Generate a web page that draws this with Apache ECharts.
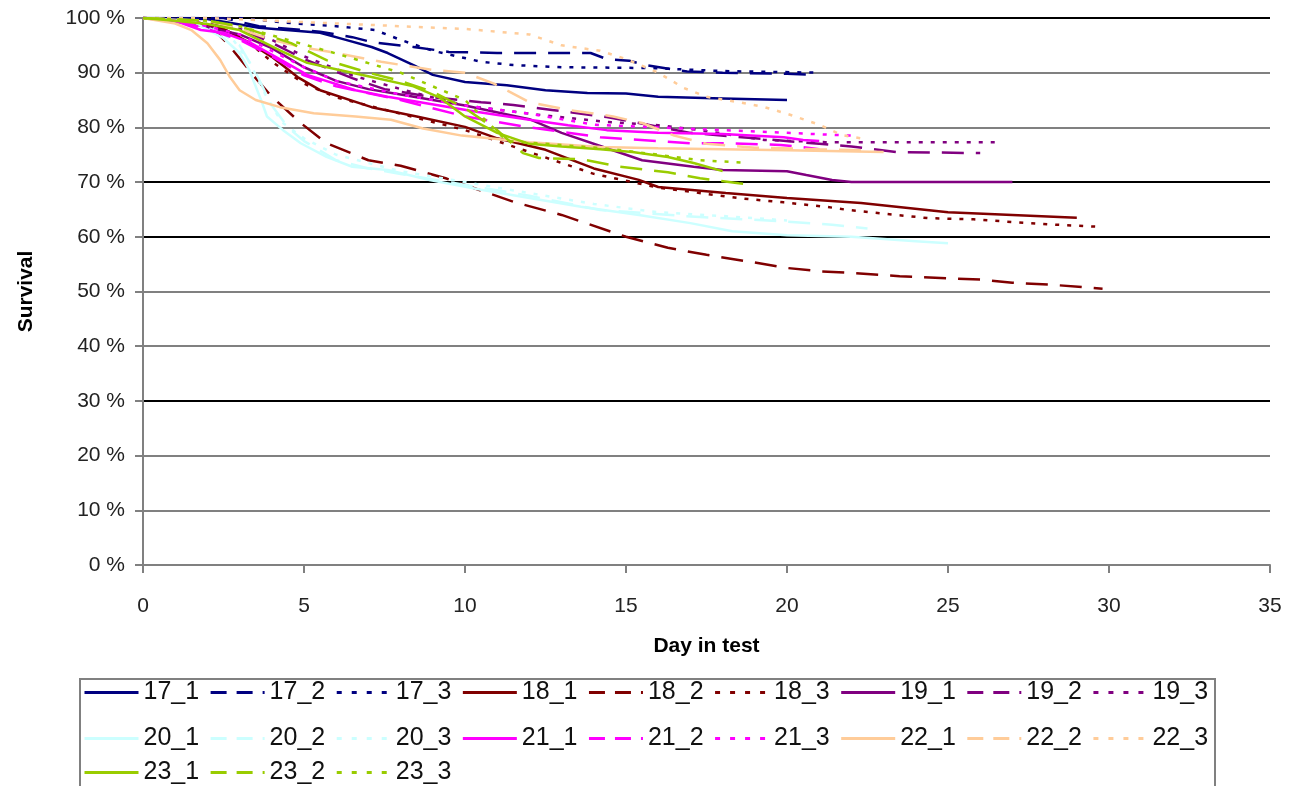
<!DOCTYPE html>
<html>
<head>
<meta charset="utf-8">
<script src="https://cdn.jsdelivr.net/npm/echarts@6/dist/echarts.min.js"></script>
<style>
  html, body { margin: 0; padding: 0; background: #fff; }
  #main { width: 1293px; height: 786px; }
</style>
</head>
<body>
<div id="main"></div>
<script>
// survival curves, [day, survival %]
var s17_1 = [[0,100],[2,99.8],[3.6,98.2],[5.5,97.3],[6.3,96],[7.1,94.7],[7.6,93.6],[8.4,91.4],[9,89.6],[10,88.3],[11.3,87.7],[12.5,86.8],[13.8,86.3],[15,86.2],[16,85.6],[18,85.3],[20,85]];
var s17_2 = [[0,100],[2.5,100],[3.6,98.5],[5.5,97.5],[6.5,96.5],[7.1,95.6],[8.4,94.7],[9.5,93.8],[11,93.6],[13.9,93.6],[14.4,92.5],[15.1,92.2],[15.6,91.4],[16.9,90.2],[18,90],[20,89.8],[20.8,89.6]];
var s17_3 = [[0,100],[3,100],[4.7,99],[6,98.5],[7.2,97.8],[8,96],[9,94],[10.5,92],[11.5,91.4],[13,91],[15,90.9],[16,90.8],[18,90.3],[21,90]];

var s18_1 = [[0,100],[1.5,99.5],[2.5,98],[3.3,95.5],[4,92.9],[4.8,89.2],[5.5,86.8],[7.1,83.7],[8.5,82],[10,80.1],[11,78],[12.5,75.9],[14,72.5],[15.4,70.4],[16,69.1],[18.1,68],[20,67.1],[22.3,66.2],[25,64.5],[27,64],[29,63.5]];
var s18_2 = [[0,100],[2,99],[2.6,95.5],[3.5,89],[4,85.6],[4.9,80.8],[5.7,77.1],[7,74],[8,73],[9.4,70.7],[11.5,66.4],[13,64],[15,60],[16.3,58],[17.5,56.7],[19,55.3],[20,54.3],[21,53.7],[22,53.4],[23.5,52.8],[25,52.4],[26,52.2],[27,51.6],[28.3,51.2],[29.8,50.5]];
var s18_3 = [[0,100],[1.5,99.5],[2.5,98],[3.3,95.5],[4,92],[5,88],[6,85.5],[8,82.5],[10,79.5],[12,75.5],[14,71.5],[16,69],[18.6,67],[19.9,66.3],[21.2,65.5],[21.9,64.9],[24.4,63.4],[25.8,63.2],[27,62.7],[28.4,62.2],[29.8,61.8]];

var s19_1 = [[0,100],[1.5,99],[3,97],[4,94.5],[5,91],[6,88.5],[7,87],[8,86],[10,84],[12,81.5],[13,79],[14.5,76],[15.5,74],[17.1,72.8],[18,72.2],[20,72],[20.6,71.3],[21.4,70.4],[22,70],[27,70]];
var s19_2 = [[0,100],[1.5,99.5],[3,98],[4,95.5],[5,92.5],[6.5,89],[7.5,87],[8.9,85.6],[10.5,84.6],[11.5,84.1],[12.7,83.2],[14.4,81.9],[15.4,80.8],[17,79],[19,78],[21,77],[22,76.5],[23.4,75.5],[26,75.3]];
var s19_3 = [[0,100],[1.5,99.5],[3,98],[4,96],[5,93],[6.5,89.5],[8,87],[10,84],[12,82.5],[14.4,81],[16,80.4],[17.3,79.5],[19.3,77.7],[21.2,77.3],[26.7,77.3]];

var s20_1 = [[0,100],[1.5,99.5],[2.5,96.3],[3,93.6],[3.3,90.5],[3.7,84.5],[3.85,82],[4.35,79.5],[4.9,77.1],[5.7,74.6],[6.5,72.8],[7.6,72.2],[8.9,70.4],[10.5,68.6],[12,67.1],[13.6,65.5],[15.4,64],[17,62.5],[18.3,61],[20,60.3],[22,60],[24,59.2],[25,58.8]];
var s20_2 = [[0,100],[1.5,99.5],[2.5,97],[3,95],[3.5,90],[4,84],[4.5,80],[5,77.5],[6,74],[7,72.5],[8,71.5],[9,70.5],[10.5,69],[12,67.5],[14.2,64.9],[17.3,63.6],[19.4,63],[21.4,62.2],[22.5,61.5]];
var s20_3 = [[0,100],[2,99],[2.8,96],[3.3,92],[3.8,86],[4.3,81],[5,78],[6,75],[7,73.5],[8,72],[10,70],[12,68],[14,66],[16,64.5],[18,63.8],[20,63]];

var s21_1 = [[0,100],[1,99.5],[1.8,97.8],[2.5,97.3],[3.3,95.6],[4.3,92.3],[5.1,89.6],[6.6,86.8],[7.6,85.6],[8.7,84.5],[10.4,82.8],[12,81.4],[13.2,80.4],[14.4,79.5],[16,79],[18,78.8],[19.9,78.2],[20.5,77.7],[21,77.5]];
var s21_2 = [[0,100],[1,99.5],[2,98],[3,96],[4,93],[5,89.5],[6,87.5],[8,85],[10,82],[12,80],[14.2,78.2],[17,77.1],[18.3,77.1],[19.8,76.8],[20.5,76.4],[21,76]];
var s21_3 = [[0,100],[1,99.5],[2,98.5],[3,97],[4,94],[5,91],[6,88.5],[8,86],[10,84],[12,82.5],[14,80.5],[16,80],[18,79.5],[20,79],[22,78.5]];

var s22_1 = [[0,100],[1,99],[1.5,97.8],[2,95.4],[2.4,92.3],[2.7,89.2],[3,86.8],[3.5,85],[4.25,83.7],[5.3,82.6],[6.6,82],[7.7,81.4],[8.7,79.8],[9.9,78.5],[12,77.3],[14.2,76.4],[16,76.2],[18,76],[20,75.8],[23,75.5]];
var s22_2 = [[0,100],[2,99.5],[3,98],[4,96],[4.9,94.7],[6,93.6],[7.4,92],[9,90.5],[10,90],[10.9,88],[12,84.6],[13.2,83.2],[14.6,82],[15.5,80.8],[16.5,78.5],[17.5,77],[19,76.3],[21,76],[22.6,75.8]];
var s22_3 = [[0,100],[2,100],[4,99.5],[6,99],[8,98.5],[10,98],[12,97],[13,95],[14.2,94],[15,92.5],[16,90],[16.8,87.2],[17.5,85.6],[18.6,84.5],[19.3,83.7],[20,82.5],[21,80.5],[21.7,78.6],[22.3,78]];

var s23_1 = [[0,100],[1,99.5],[2,98.9],[3,97.8],[4.25,94.1],[5.1,91.8],[6.1,90.5],[7.1,89.2],[8.4,87.5],[9.2,85.5],[10,82],[11,79],[12,77],[13,76.5],[14.2,76],[15.2,75.5],[16.3,74.6],[17.1,73.5],[18,72]];
var s23_2 = [[0,100],[2,99.5],[3,98.5],[4.6,95.4],[5.7,92.3],[7,90],[8,88.5],[9,86.5],[10,83.5],[11,79.5],[11.8,75.3],[12.3,74.4],[13.6,74.2],[14.8,72.8],[16.3,71.8],[17.3,70.7],[18.5,69.8],[19,69.5]];
var s23_3 = [[0,100],[2,99.5],[3,98.5],[4.5,96],[6,93.5],[8,90],[10,85],[11.3,77.5],[12.5,77],[13.6,76.5],[14.6,76],[16,75],[17.3,74],[18.8,73.5]];

var names = ['17_1','17_2','17_3','18_1','18_2','18_3','19_1','19_2','19_3',
             '20_1','20_2','20_3','21_1','21_2','21_3','22_1','22_2','22_3',
             '23_1','23_2','23_3'];
var seriesData = [s17_1, s17_2, s17_3, s18_1, s18_2, s18_3, s19_1, s19_2, s19_3,
                  s20_1, s20_2, s20_3, s21_1, s21_2, s21_3, s22_1, s22_2, s22_3,
                  s23_1, s23_2, s23_3];
var groupColors = ['#000080', '#800000', '#800080', '#ccffff', '#ff00ff', '#ffcc99', '#99cc00'];
var lineTypes = ['solid', [22, 12], [4, 8]];
var legendTypes = ['solid', [16, 10], [5, 10]];
var yTicks = [0, 10, 20, 30, 40, 50, 60, 70, 80, 90, 100];

var myChart = echarts.init(document.getElementById('main'));

var series = names.map(function (n, i) {
  return {
    name: n,
    type: 'line',
    data: seriesData[i],
    symbol: 'none',
    showSymbol: false,
    smooth: false,
    animation: false,
    color: groupColors[Math.floor(i / 3)],
    lineStyle: {
      width: 2.5,
      color: groupColors[Math.floor(i / 3)],
      type: lineTypes[i % 3]
    }
  };
});

function legendRow(from, to, top) {
  var items = [];
  for (var i = from; i < to; i++) {
    items.push({
      name: names[i],
      itemStyle: { opacity: 0 },
      lineStyle: { width: 3, type: legendTypes[i % 3] }
    });
  }
  return {
    data: items,
    left: 83,
    top: top,
    orient: 'horizontal',
    padding: 0,
    itemWidth: 54,
    itemHeight: 4,
    itemGap: 10,
    textStyle: { fontFamily: 'Liberation Sans', fontSize: 25, color: '#111' }
  };
}

var option = {
  backgroundColor: '#fff',
  animation: false,
  grid: { left: 143, right: 23, top: 18, bottom: 221 },
  xAxis: {
    type: 'value',
    min: 0,
    max: 35,
    interval: 5,
    name: 'Day in test',
    nameLocation: 'middle',
    nameGap: 71,
    nameTextStyle: { fontFamily: 'Liberation Sans', fontSize: 21, fontWeight: 'bold', color: '#000' },
    axisLine: { lineStyle: { color: '#808080', width: 2 } },
    axisTick: { length: 8, lineStyle: { color: '#808080', width: 2 } },
    axisLabel: { fontFamily: 'Liberation Sans', fontSize: 21, color: '#222', margin: 31 },
    splitLine: { show: false }
  },
  yAxis: {
    type: 'value',
    min: 0,
    max: 100,
    interval: 10,
    name: 'Survival',
    nameLocation: 'middle',
    nameGap: 106,
    nameRotate: 90,
    nameTextStyle: { fontFamily: 'Liberation Sans', fontSize: 21, fontWeight: 'bold', color: '#000' },
    axisLine: { show: true, lineStyle: { color: '#808080', width: 2 } },
    axisTick: { show: true, length: 8, lineStyle: { color: '#808080', width: 2 } },
    axisLabel: {
      fontFamily: 'Liberation Sans', fontSize: 21, color: '#222', margin: 18,
      formatter: function (v) { return v + ' %'; }
    },
    splitLine: {
      show: true,
      lineStyle: {
        width: 2,
        // gridlines as drawn in the picture: some come out black
        color: yTicks.map(function (t) {
          return (t === 30 || t === 60 || t === 70 || t === 100) ? '#000' : '#808080';
        })
      }
    }
  },
  legend: [
    legendRow(0, 9, 680),
    legendRow(9, 18, 726),
    legendRow(18, 21, 760)
  ],
  graphic: [{
    type: 'rect',
    shape: { x: 80, y: 679, width: 1135, height: 130 },
    style: { fill: 'none', stroke: '#808080', lineWidth: 2 },
    silent: true,
    z: -1
  }],
  series: series
};

myChart.setOption(option);
</script>
</body>
</html>
